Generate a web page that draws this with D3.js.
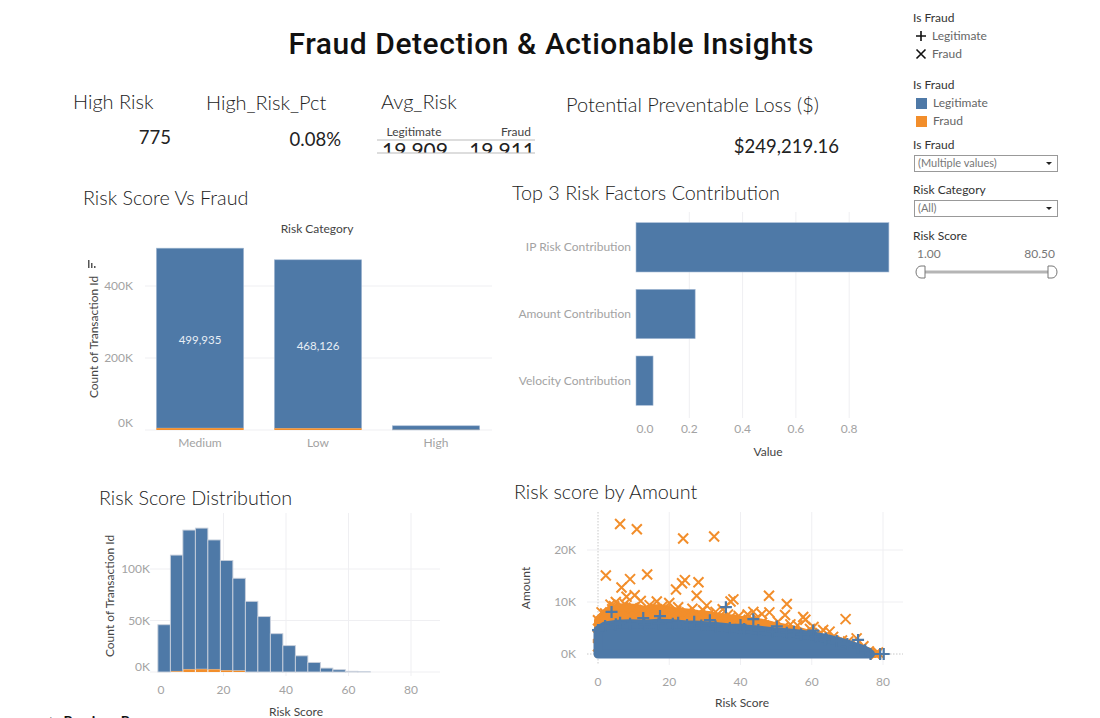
<!DOCTYPE html>
<html>
<head>
<meta charset="utf-8">
<script src="https://cdn.jsdelivr.net/npm/d3@7"></script>
<style>
  body { margin: 0; background: #fff; }
  text { font-family: Lato, "Open Sans", sans-serif; }
</style>
</head>
<body>
<div id="dash"></div>
<script>
// ---- data ----
var kpiLabels = ["High Risk", "High_Risk_Pct", "Avg_Risk", "Potential Preventable Loss ($)"];
var highRisk = 775;
var highRiskPct = "0.08%";
var avgRiskGroups = ["Legitimate", "Fraud"];
var avgRiskValues = [19.909, 19.911];
var preventableLoss = 249219.16;

// Risk Score Vs Fraud (stacked bars)
var riskCategories = ["Medium", "Low", "High"];
var legitCounts = [499935, 468126, 11400];
var fraudCounts = [5200, 4700, 300];
var countTicks = [0, 200000, 400000];

// Top 3 risk factors
var factorNames = ["IP Risk Contribution", "Amount Contribution", "Velocity Contribution"];
var factorValues = [0.949, 0.222, 0.064];
var factorTicks = [0, 0.2, 0.4, 0.6, 0.8];

// Risk score distribution (bin size 4)
var binStarts = [-1, 3, 7, 11, 15, 19, 23, 27, 31, 35, 39, 43, 47, 51, 55, 59, 63];
var binLegit = [45900, 112900, 135300, 137000, 125700, 106800, 89800, 68600, 53800, 37200, 25600, 15700, 9300, 3800, 2200, 700, 200];
var binFraud = [0, 600, 2500, 2700, 2500, 1500, 1200, 0, 0, 0, 0, 0, 0, 0, 0, 0, 0];
var histXTicks = [0, 20, 40, 60, 80];
var histYTicks = [0, 50000, 100000];

// Risk score by amount: dense cloud outlines [score, amount] and single marks
var fraudCloud = [[0, 6500], [2, 7800], [4, 8600], [7, 9000], [10, 8900], [13, 8500], [16, 8800], [19, 8600], [22, 8200], [25, 8000], [28, 7700], [31, 7500], [34, 7100], [37, 6900], [40, 6600], [43, 6300], [46, 6000], [49, 5500], [52, 5100], [55, 4700], [58, 4100], [61, 3500], [64, 2900], [67, 2200], [70, 1600], [73, 1000], [76, 500], [78, 0]];
var legitCloud = [[0, 4600], [2, 5400], [5, 5700], [9, 5800], [13, 5700], [17, 5900], [21, 5800], [25, 5600], [29, 5500], [33, 5300], [37, 5000], [41, 4800], [45, 4600], [49, 4300], [53, 4100], [57, 3800], [61, 3400], [64, 3000], [67, 2500], [70, 1900], [73, 1200], [75, 700], [76.5, 0]];
var fraudPoints = [[6.2, 25000], [10.9, 24000], [23.9, 22200], [32.6, 22600], [2.2, 15100], [9.0, 14400], [13.8, 15300], [24.4, 14200], [23.6, 13600], [28.2, 13800], [21.9, 12400], [6.6, 12800], [8.0, 11000], [10.3, 11300], [27.7, 11200], [38.0, 10500], [37.2, 10100], [48.0, 11200], [53.0, 9600], [52.5, 7500], [57.6, 7100], [58.2, 6600], [69.5, 6700], [48.1, 8000], [5.0, 10000], [16.5, 10100], [20.0, 9800], [43.6, 8100], [42.0, 7600], [63.2, 4600], [65.0, 4300], [72.6, 3000], [70.2, 2400], [56.0, 5500], [77.8, 0], [78.6, 300], [3.5, 9500], [12.0, 10200], [30.5, 9300], [35.0, 8600], [46.0, 7700], [60.5, 5200], [0, 1500], [0, 3500],
  [1.0, 8000], [4.5, 9200], [7.5, 9600], [9.5, 8800], [14.5, 9400], [18.0, 9100], [22.5, 9000], [26.5, 8700], [29.5, 8400], [33.0, 8100], [36.5, 7600], [39.5, 7300], [44.5, 6900], [50.5, 6200], [54.0, 5700], [59.5, 4800], [62.5, 4000], [66.0, 3300], [68.5, 2600], [74.5, 1500]];
var legitPoints = [[3.8, 8100], [17.4, 7300], [12.7, 6900], [35.9, 9000], [43.6, 6700], [50.2, 5300], [60.4, 4500], [63.7, 2800], [73.0, 2700], [79.2, 0], [80.2, 0], [22.5, 6000], [31.4, 6500], [6.2, 6000], [27.0, 6200], [40.0, 5600], [55.0, 4300]];
var scatterXTicks = [0, 20, 40, 60, 80];
var scatterYTicks = [0, 10000, 20000];

var blue = "#4e79a7";
var orange = "#f28e2b";
var grid = "#efeff2";
var tickGray = "#a3a3a3";

var svg = d3.select("#dash").append("svg")
  .attr("width", 1100)
  .attr("height", 718);

// ---- header ----
svg.append("text")
  .attr("x", 551).attr("y", 54)
  .attr("text-anchor", "middle")
  .style("font-family", "Roboto, sans-serif")
  .style("font-weight", 500)
  .style("font-size", "30px")
  .attr("textLength", 525)
  .attr("fill", "#111")
  .text("Fraud Detection & Actionable Insights");

// ---- KPI row ----
var kpiX = [73, 206, 381, 566];
var kpiY = [109, 110, 109, 112];
kpiLabels.forEach(function(k, i) {
  svg.append("text")
    .attr("x", kpiX[i]).attr("y", kpiY[i])
    .style("font-size", "20px")
    .style("font-weight", 300)
    .attr("fill", "#222")
    .text(k);
});
svg.append("text").attr("x", 171).attr("y", 144).attr("text-anchor", "end")
  .style("font-size", "18.5px").attr("fill", "#222").text(d3.format(",")(highRisk));
svg.append("text").attr("x", 341).attr("y", 146).attr("text-anchor", "end")
  .style("font-size", "18.5px").attr("fill", "#222").text(highRiskPct);
svg.append("text").attr("x", 839).attr("y", 153).attr("text-anchor", "end")
  .style("font-size", "18.5px").attr("fill", "#222").text("$" + d3.format(",.2f")(preventableLoss));

// Avg_Risk little crosstab (values clipped by the box)
var avg = svg.append("g");
svg.append("clipPath").attr("id", "avgclip")
  .append("rect").attr("x", 370).attr("y", 139).attr("width", 170).attr("height", 14);
avg.selectAll(".hd").data(avgRiskGroups).enter().append("text")
  .attr("x", function(d, i) { return i === 0 ? 414 : 531; })
  .attr("y", 136)
  .attr("text-anchor", function(d, i) { return i === 0 ? "middle" : "end"; })
  .style("font-size", "12px").attr("fill", "#444")
  .text(function(d) { return d; });
avg.append("g").attr("clip-path", "url(#avgclip)")
  .selectAll("text").data(avgRiskValues).enter().append("text")
  .attr("x", function(d, i) { return i === 0 ? 415 : 535; })
  .attr("y", 158)
  .attr("text-anchor", function(d, i) { return i === 0 ? "middle" : "end"; })
  .style("font-size", "21px").attr("fill", "#222")
  .text(function(d) { return d3.format(".3f")(d); });
[140, 153].forEach(function(y) {
  avg.append("line").attr("x1", 377).attr("x2", 535).attr("y1", y).attr("y2", y)
    .attr("stroke", "#bbb").attr("stroke-width", 1);
});

function chartTitle(x, y, t) {
  svg.append("text").attr("x", x).attr("y", y)
    .style("font-size", "19.8px").style("font-weight", 300)
    .attr("fill", "#222").text(t);
}

// ---- Chart 1: Risk Score Vs Fraud ----
chartTitle(83, 205, "Risk Score Vs Fraud");
var c1 = svg.append("g");
var x1 = d3.scaleBand().domain(riskCategories).range([141, 495]).paddingInner(0.26).paddingOuter(0.13);
var y1 = d3.scaleLinear().domain([0, 527800]).range([430, 240]);

c1.selectAll(".grid").data(countTicks).enter().append("line")
  .attr("x1", 145).attr("x2", 492)
  .attr("y1", function(d) { return y1(d); }).attr("y2", function(d) { return y1(d); })
  .attr("stroke", grid);
c1.selectAll(".yt").data(countTicks).enter().append("text")
  .attr("x", 133)
  .attr("y", function(d) { return y1(d) + (d === 0 ? -3 : 4); })
  .attr("text-anchor", "end")
  .style("font-size", "12px").attr("fill", tickGray)
  .text(function(d) { return (d / 1000) + "K"; });

// blue sits on top of orange
c1.selectAll(".legit").data(riskCategories).enter().append("rect")
  .attr("x", function(d) { return x1(d); })
  .attr("width", x1.bandwidth())
  .attr("y", function(d, i) { return y1(legitCounts[i] + fraudCounts[i]); })
  .attr("height", function(d, i) { return y1(0) - y1(legitCounts[i]); })
  .attr("fill", blue).attr("stroke", "#a8bdd6").attr("stroke-width", 0.6);
c1.selectAll(".fraud").data(riskCategories).enter().append("rect")
  .attr("x", function(d) { return x1(d); })
  .attr("width", x1.bandwidth())
  .attr("y", function(d, i) { return y1(fraudCounts[i]); })
  .attr("height", function(d, i) { return Math.max(0, y1(0) - y1(fraudCounts[i])); })
  .attr("fill", orange);
c1.selectAll(".lbl").data(riskCategories.slice(0, 2)).enter().append("text")
  .attr("x", function(d) { return x1(d) + x1.bandwidth() / 2; })
  .attr("y", function(d, i) { return (y1(legitCounts[i]) + y1(0)) / 2 + 4; })
  .attr("text-anchor", "middle")
  .style("font-size", "11.5px").attr("fill", "#e8eef5")
  .text(function(d, i) { return d3.format(",")(legitCounts[i]); });
c1.selectAll(".xt").data(riskCategories).enter().append("text")
  .attr("x", function(d) { return x1(d) + x1.bandwidth() / 2; })
  .attr("y", 447)
  .attr("text-anchor", "middle")
  .style("font-size", "12px").attr("fill", tickGray)
  .text(function(d) { return d; });
c1.append("text").attr("x", 317).attr("y", 233).attr("text-anchor", "middle")
  .style("font-size", "12px").attr("fill", "#444").text("Risk Category");
c1.append("text").attr("transform", "translate(98,337) rotate(-90)")
  .attr("text-anchor", "middle")
  .style("font-size", "12px").attr("fill", "#444").text("Count of Transaction Id");
// little sort icon
c1.append("rect").attr("x", 88).attr("y", 260).attr("width", 1.5).attr("height", 8).attr("fill", "#555");
c1.append("rect").attr("x", 91).attr("y", 263).attr("width", 1.5).attr("height", 5).attr("fill", "#555");
c1.append("rect").attr("x", 94).attr("y", 266).attr("width", 1.5).attr("height", 2).attr("fill", "#555");

// ---- Chart 2: Top 3 Risk Factors Contribution ----
chartTitle(512, 200, "Top 3 Risk Factors Contribution");
var c2 = svg.append("g");
var x2 = d3.scaleLinear().domain([0, 1]).range([636, 902.5]);
var y2 = d3.scaleBand().domain(factorNames).range([214, 414]).paddingInner(0.26).paddingOuter(0.13);

c2.selectAll(".grid").data(factorTicks.slice(1)).enter().append("line")
  .attr("x1", function(d) { return x2(d); }).attr("x2", function(d) { return x2(d); })
  .attr("y1", 212).attr("y2", 418)
  .attr("stroke", grid);
c2.selectAll("rect").data(factorNames).enter().append("rect")
  .attr("x", x2(0))
  .attr("y", function(d) { return y2(d); })
  .attr("height", y2.bandwidth())
  .attr("width", function(d, i) { return x2(factorValues[i]) - x2(0); })
  .attr("fill", blue).attr("stroke", "#a8bdd6").attr("stroke-width", 0.6);
c2.selectAll(".yl").data(factorNames).enter().append("text")
  .attr("x", 631)
  .attr("y", function(d) { return y2(d) + y2.bandwidth() / 2 + 4; })
  .attr("text-anchor", "end")
  .style("font-size", "12px").attr("fill", tickGray)
  .text(function(d) { return d; });
c2.selectAll(".xt").data(factorTicks).enter().append("text")
  .attr("x", function(d) { return x2(d) + (d === 0 ? 9 : 0); })
  .attr("y", 433)
  .attr("text-anchor", "middle")
  .style("font-size", "12px").attr("fill", tickGray)
  .text(function(d) { return d3.format(".1f")(d); });
c2.append("text").attr("x", 768).attr("y", 456).attr("text-anchor", "middle")
  .style("font-size", "12px").attr("fill", "#444").text("Value");

// ---- Chart 3: Risk Score Distribution ----
chartTitle(99, 505, "Risk Score Distribution");
var c3 = svg.append("g");
var x3 = d3.scaleLinear().domain([0, 80]).range([161, 411]);
var y3 = d3.scaleLinear().domain([0, 100000]).range([672, 569]);

c3.selectAll(".vg").data(histXTicks.slice(1)).enter().append("line")
  .attr("x1", function(d) { return x3(d); }).attr("x2", function(d) { return x3(d); })
  .attr("y1", 513).attr("y2", 676).attr("stroke", grid);
c3.selectAll(".hg").data(histYTicks).enter().append("line")
  .attr("x1", 150).attr("x2", 440)
  .attr("y1", function(d) { return y3(d); }).attr("y2", function(d) { return y3(d); })
  .attr("stroke", grid);
c3.selectAll(".legit").data(binStarts).enter().append("rect")
  .attr("x", function(d) { return x3(d); })
  .attr("width", function(d) { return x3(d + 4) - x3(d); })
  .attr("y", function(d, i) { return y3(binLegit[i] + binFraud[i]); })
  .attr("height", function(d, i) { return y3(binFraud[i]) - y3(binLegit[i] + binFraud[i]); })
  .attr("fill", blue).attr("stroke", "#c9d0dc").attr("stroke-width", 0.9);
c3.selectAll(".fraud").data(binStarts).enter().append("rect")
  .attr("x", function(d) { return x3(d) + 0.5; })
  .attr("width", function(d) { return x3(d + 4) - x3(d) - 1; })
  .attr("y", function(d, i) { return y3(binFraud[i]); })
  .attr("height", function(d, i) { return y3(0) - y3(binFraud[i]); })
  .attr("fill", orange);
c3.selectAll(".yt").data(histYTicks).enter().append("text")
  .attr("x", 150)
  .attr("y", function(d) { return y3(d) + (d === 0 ? -1 : 4); })
  .attr("text-anchor", "end")
  .style("font-size", "12px").attr("fill", tickGray)
  .text(function(d) { return (d / 1000) + "K"; });
c3.selectAll(".xt").data(histXTicks).enter().append("text")
  .attr("x", function(d) { return x3(d); })
  .attr("y", 694)
  .attr("text-anchor", "middle")
  .style("font-size", "12px").attr("fill", tickGray)
  .text(function(d) { return d; });
c3.append("text").attr("x", 296).attr("y", 716).attr("text-anchor", "middle")
  .style("font-size", "12px").attr("fill", "#444").text("Risk Score");
c3.append("text").attr("transform", "translate(114,596) rotate(-90)")
  .attr("text-anchor", "middle")
  .style("font-size", "12px").attr("fill", "#444").text("Count of Transaction Id");

// ---- Chart 4: Risk score by Amount ----
chartTitle(514, 499, "Risk score by Amount");
var c4 = svg.append("g");
var x4 = d3.scaleLinear().domain([0, 80]).range([598, 883]);
var y4 = d3.scaleLinear().domain([0, 10000]).range([654, 602]);

c4.selectAll(".vg").data(scatterXTicks.slice(1)).enter().append("line")
  .attr("x1", function(d) { return x4(d); }).attr("x2", function(d) { return x4(d); })
  .attr("y1", 512).attr("y2", 665).attr("stroke", grid);
c4.selectAll(".hg").data(scatterYTicks.slice(1)).enter().append("line")
  .attr("x1", 587).attr("x2", 903)
  .attr("y1", function(d) { return y4(d); }).attr("y2", function(d) { return y4(d); })
  .attr("stroke", grid);
c4.append("line").attr("x1", x4(0)).attr("x2", x4(0)).attr("y1", 512).attr("y2", 665)
  .attr("stroke", "#c8c8c8").attr("stroke-dasharray", "1.5,1.5");
c4.append("line").attr("x1", 587).attr("x2", 903).attr("y1", y4(0)).attr("y2", y4(0))
  .attr("stroke", "#c8c8c8").attr("stroke-dasharray", "1.5,1.5");

function drawX(g, pts, color) {
  g.selectAll(null).data(pts).enter().append("path")
    .attr("d", d3.line()([[-5, -5], [5, 5]]) + d3.line()([[-5, 5], [5, -5]]))
    .attr("transform", function(d) { return "translate(" + x4(d[0]) + "," + y4(d[1]) + ")"; })
    .attr("stroke", color).attr("stroke-width", 2).attr("fill", "none");
}
function drawPlus(g, pts, color) {
  g.selectAll(null).data(pts).enter().append("path")
    .attr("d", d3.line()([[-6, 0], [6, 0]]) + d3.line()([[0, -6], [0, 6]]))
    .attr("transform", function(d) { return "translate(" + x4(d[0]) + "," + y4(d[1]) + ")"; })
    .attr("stroke", color).attr("stroke-width", 2.2).attr("fill", "none");
}
var cloudArea = d3.area()
  .x(function(d) { return x4(d[0]); })
  .y0(y4(0))
  .y1(function(d) { return y4(d[1]); });

var fraudG = c4.append("g");
fraudG.append("path").datum(fraudCloud).attr("d", cloudArea)
  .attr("fill", orange).attr("stroke", orange).attr("stroke-width", 8).attr("stroke-linejoin", "round");
drawX(fraudG, fraudCloud, orange);
drawX(fraudG, fraudPoints, orange);

var legitG = c4.append("g");
legitG.append("path").datum(legitCloud).attr("d", cloudArea)
  .attr("fill", blue).attr("stroke", blue).attr("stroke-width", 9).attr("stroke-linejoin", "round");
drawPlus(legitG, legitCloud, blue);
drawPlus(legitG, legitPoints, blue);

c4.selectAll(".yt").data(scatterYTicks).enter().append("text")
  .attr("x", 576)
  .attr("y", function(d) { return y4(d) + 4; })
  .attr("text-anchor", "end")
  .style("font-size", "12px").attr("fill", tickGray)
  .text(function(d) { return (d / 1000) + "K"; });
c4.selectAll(".xt").data(scatterXTicks).enter().append("text")
  .attr("x", function(d) { return x4(d); })
  .attr("y", 686)
  .attr("text-anchor", "middle")
  .style("font-size", "12px").attr("fill", tickGray)
  .text(function(d) { return d; });
c4.append("text").attr("x", 742).attr("y", 707).attr("text-anchor", "middle")
  .style("font-size", "12px").attr("fill", "#444").text("Risk Score");
c4.append("text").attr("transform", "translate(530,588) rotate(-90)")
  .attr("text-anchor", "middle")
  .style("font-size", "12px").attr("fill", "#444").text("Amount");

// ---- right side legends and filters ----
var side = svg.append("g");
function sideHead(y, t) {
  side.append("text").attr("x", 913).attr("y", y).style("font-size", "12px").attr("fill", "#333").text(t);
}
sideHead(22, "Is Fraud");
var shapeLegend = ["Legitimate", "Fraud"];
shapeLegend.forEach(function(d, i) {
  var cy = 36 + i * 18;
  var p = i === 0 ? [[[-5, 0], [5, 0]], [[0, -5], [0, 5]]] : [[[-4.5, -4.5], [4.5, 4.5]], [[-4.5, 4.5], [4.5, -4.5]]];
  side.append("path").attr("d", d3.line()(p[0]) + d3.line()(p[1]))
    .attr("transform", "translate(921," + cy + ")")
    .attr("stroke", "#111").attr("stroke-width", 1.6);
  side.append("text").attr("x", 932).attr("y", cy + 4).style("font-size", "12px").attr("fill", "#666").text(d);
});
sideHead(89, "Is Fraud");
[blue, orange].forEach(function(c, i) {
  var cy = 103 + i * 18;
  side.append("rect").attr("x", 916).attr("y", cy - 5).attr("width", 11).attr("height", 11).attr("fill", c);
  side.append("text").attr("x", 933).attr("y", cy + 4).style("font-size", "12px").attr("fill", "#666").text(shapeLegend[i]);
});
sideHead(149, "Is Fraud");
sideHead(194, "Risk Category");
[[155, "(Multiple values)"], [200, "(All)"]].forEach(function(b) {
  side.append("rect").attr("x", 914.5).attr("y", b[0] + 0.5).attr("width", 143).attr("height", 16)
    .attr("fill", "#fff").attr("stroke", "#999");
  side.append("text").attr("x", 918).attr("y", b[0] + 12).style("font-size", "11px").attr("fill", "#777").text(b[1]);
  side.append("path").attr("d", "M1046," + (b[0] + 7) + "L1052," + (b[0] + 7) + "L1049," + (b[0] + 10) + "Z").attr("fill", "#222");
});
sideHead(240, "Risk Score");
side.append("text").attr("x", 917).attr("y", 258).style("font-size", "12px").attr("fill", "#777").text("1.00");
side.append("text").attr("x", 1055).attr("y", 258).attr("text-anchor", "end").style("font-size", "12px").attr("fill", "#777").text("80.50");
side.append("line").attr("x1", 922).attr("x2", 1052).attr("y1", 272).attr("y2", 272).attr("stroke", "#b5b5b5").attr("stroke-width", 3);
side.append("path").attr("d", "M925,266 L921,266 A5,6 0 0 0 921,278 L925,278 Z").attr("fill", "#fff").attr("stroke", "#777");
side.append("path").attr("d", "M1048,266 L1052,266 A5,6 0 0 1 1052,278 L1048,278 Z").attr("fill", "#fff").attr("stroke", "#777");

// bottom nav, cut by the window edge
svg.append("text").attr("x", 46).attr("y", 726)
  .style("font-size", "14px").style("font-weight", 700).attr("fill", "#111")
  .text("\u2190 Previous Page");
</script>
</body>
</html>
